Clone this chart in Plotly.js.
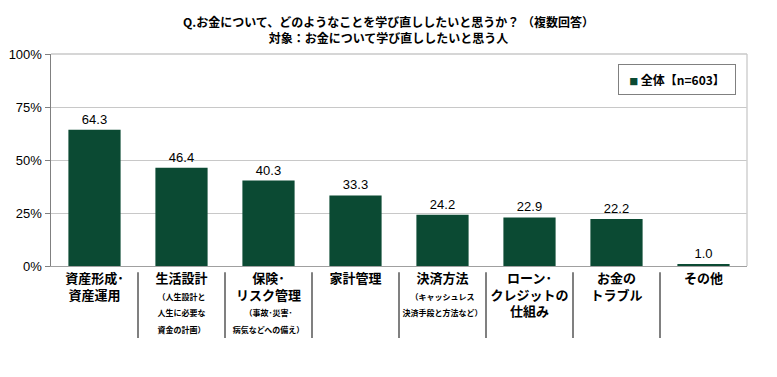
<!DOCTYPE html>
<html>
<head>
<meta charset="utf-8">
<script src="https://cdn.plot.ly/plotly-3.0.1.min.js"></script>
<style>html,body{margin:0;padding:0;background:#fff;}#chart{width:777px;height:377px;}</style>
</head>
<body>
<div id="chart"></div>
<script>
const categories = ["資産形成・資産運用","生活設計","保険・リスク管理","家計管理","決済方法","ローン・クレジットの仕組み","お金のトラブル","その他"];
const labelMain = [["資産形成･","資産運用"],["生活設計"],["保険･","リスク管理"],["家計管理"],["決済方法"],["ローン･","クレジットの","仕組み"],["お金の","トラブル"],["その他"]];
const labelNote = [[],["（人生設計と","人生に必要な","資金の計画）"],["（事故･災害･","病気などへの備え）"],[],["（キャッシュレス","決済手段と方法など）"],[],[],[]];
const values = [64.3,46.4,40.3,33.3,24.2,22.9,22.2,1.0];
const seriesName = "全体【n=603】";
const yTicks = [0,25,50,75,100];
const yTickText = ["0%","25%","50%","75%","100%"];

const green = "#0B4A33";
const jp = "'Noto Sans CJK JP', 'Noto Sans', sans-serif";

const ticktext = categories.map((c,i)=>{
  const m = labelMain[i].map(s=>"<b>"+s+"</b>");
  const n = labelNote[i].map(s=>"<span style='font-size:8px'><b>"+s+"</b></span>");
  return m.concat(n).join("<br>");
});

const shapes = [];
for (let i=0;i<categories.length-1;i++){
  shapes.push({type:"line", xref:"x", yref:"paper", x0:i+0.5, x1:i+0.5, y0:-0.03, y1:-0.34,
    line:{color:"#808080", width:2}});
}

const trace = {
  type:"bar", x:categories, y:values, name:seriesName, showlegend:false,
  marker:{color:green}, width:0.6,
  text: values.map(v=>v.toFixed(1)), textposition:"outside",
  textfont:{family:"Arial, 'Liberation Sans', sans-serif", size:13, color:"#000"},
  cliponaxis:false
};

const layout = {
  width:777, height:377,
  margin:{l:51, r:30, t:54, b:111},
  paper_bgcolor:"#fff", plot_bgcolor:"#fff",
  title:{text:"<b>Q.お金について、どのようなことを学び直ししたいと思うか？ （複数回答）</b><br><b>対象：お金について学び直ししたいと思う人</b>",
    font:{family:jp, size:12, color:"#000"}, x:0.5, xanchor:"center", yref:"container", y:0.928, yanchor:"middle"},
  showlegend:false,
  annotations:[{xref:"paper", yref:"paper", x:0.815, y:0.953, xanchor:"left", yanchor:"top",
    text:"<span style='color:"+green+";font-size:9px'>■</span> <b>"+seriesName+"</b>",
    showarrow:false, bordercolor:"#808080", borderwidth:1, borderpad:6, bgcolor:"#fff",
    font:{family:jp, size:12, color:"#000"}, width:104, align:"center"}],
  xaxis:{type:"category", tickvals:categories, ticktext:ticktext,
    showline:true, linecolor:"#a0a0a0", linewidth:1, mirror:false,
    ticks:"", tickfont:{family:jp, size:13, color:"#000"},
    showgrid:false, zeroline:false, fixedrange:true},
  yaxis:{range:[0,100], tickvals:yTicks, ticktext:yTickText,
    showline:true, linecolor:"#808080", linewidth:1.5,
    ticks:"outside", ticklen:5, tickcolor:"#808080",
    tickfont:{family:"Arial, 'Liberation Sans', sans-serif", size:13, color:"#000"},
    showgrid:true, gridcolor:"#c8c8c8", gridwidth:1, zeroline:false},
  shapes: shapes.concat([{type:"line", xref:"paper", yref:"paper", x0:1, x1:1, y0:0, y1:1, line:{color:"#d0d0d0", width:1.5}},
    {type:"line", xref:"paper", yref:"paper", x0:0, x1:1, y0:1, y1:1, line:{color:"#c8c8c8", width:1.5}}])
};

Plotly.newPlot("chart",[trace],layout,{displayModeBar:false, staticPlot:true});
</script>
</body>
</html>
